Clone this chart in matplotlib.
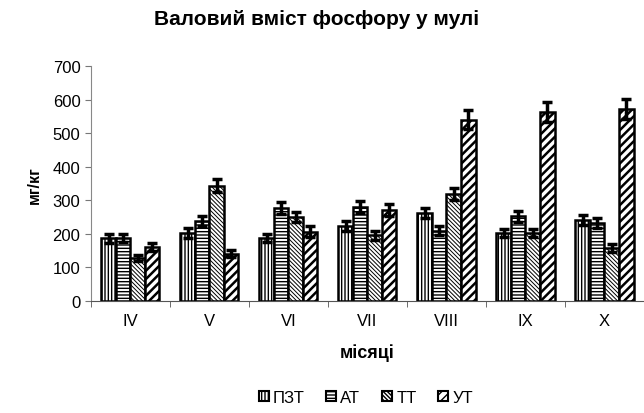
import numpy as np
import matplotlib
matplotlib.use("Agg")
import matplotlib.pyplot as plt

plt.rcParams["font.family"] = ["Liberation Sans", "DejaVu Sans"]
plt.rcParams["hatch.linewidth"] = 1.0

# months and measured values (mg/kg)
months = ["IV", "V", "VI", "VII", "VIII", "IX", "X"]
series_names = ["ПЗТ", "АТ", "ТТ", "УТ"]

pzt = [187, 202, 187, 224, 262, 204, 242]
at = [189, 237, 277, 279, 209, 252, 232]
tt = [128, 344, 249, 196, 319, 203, 158]
ut = [162, 141, 207, 272, 541, 563, 573]

pzt_err = [13, 15, 12, 15, 16, 12, 15]
at_err = [12, 15, 17, 18, 13, 16, 14]
tt_err = [10, 20, 15, 13, 18, 12, 11]
ut_err = [12, 10, 15, 18, 29, 30, 31]

values = [pzt, at, tt, ut]
errors = [pzt_err, at_err, tt_err, ut_err]
hatches = ["|||||", "-----", "\\\\\\\\\\\\\\\\", "////"]
hatch_lw = [1.0, 1.0, 0.7, 1.8]

fig = plt.figure(figsize=(6.44, 4.14), dpi=100)
ax = fig.add_axes([0.141, 0.271, 0.859, 0.566])

x = np.arange(len(months))
width = 0.184
for i, (vals, errs, h, name) in enumerate(zip(values, errors, hatches, series_names)):
    offset = (i - 1.5) * width
    with plt.rc_context({"hatch.linewidth": hatch_lw[i]}):
        bars = ax.bar(x + offset, vals, width, color="white", edgecolor="black",
                      linewidth=1.8, hatch=h, label=name, zorder=2)
    for b in bars:
        if hasattr(b, "set_hatch_linewidth"):
            b.set_hatch_linewidth(hatch_lw[i])
    ax.errorbar(x + offset, vals, yerr=errs, fmt="none", ecolor="black",
                elinewidth=2.5, capsize=3.5, capthick=2.5, zorder=3)

ax.set_xlim(-0.5, len(months) - 0.5)
ax.set_ylim(0, 700)
ax.set_yticks(range(0, 701, 100))
ax.set_xticks(x)
ax.set_xticklabels(months)
ax.set_xticks(np.arange(-0.5, len(months)), minor=True)
ax.tick_params(axis="x", which="major", length=0, pad=9, labelsize=12)
ax.tick_params(axis="x", which="minor", length=4, direction="out", color="#555555")
ax.tick_params(axis="y", length=4, direction="out", color="#777777", labelsize=12)

for side in ["top", "right"]:
    ax.spines[side].set_visible(False)
ax.spines["left"].set_color("#888888")
ax.spines["bottom"].set_color("#555555")

ax.set_ylabel("мг/кг", fontsize=11.5, fontweight="bold", labelpad=8)
ax.set_xlabel("місяці", fontsize=13, fontweight="bold", labelpad=11)
fig.suptitle("Валовий вміст фосфору у мулі", fontsize=15, fontweight="bold",
             x=0.491, y=0.975)

leg = fig.legend(loc="center", bbox_to_anchor=(0.568, 0.038), ncol=4,
                 frameon=False, fontsize=12, handlelength=0.6, handleheight=0.6,
                 handletextpad=0.25, columnspacing=1.3)
for patch in leg.get_patches():
    patch.set_linewidth(1.5)

fig.savefig("out.png", dpi=100)
